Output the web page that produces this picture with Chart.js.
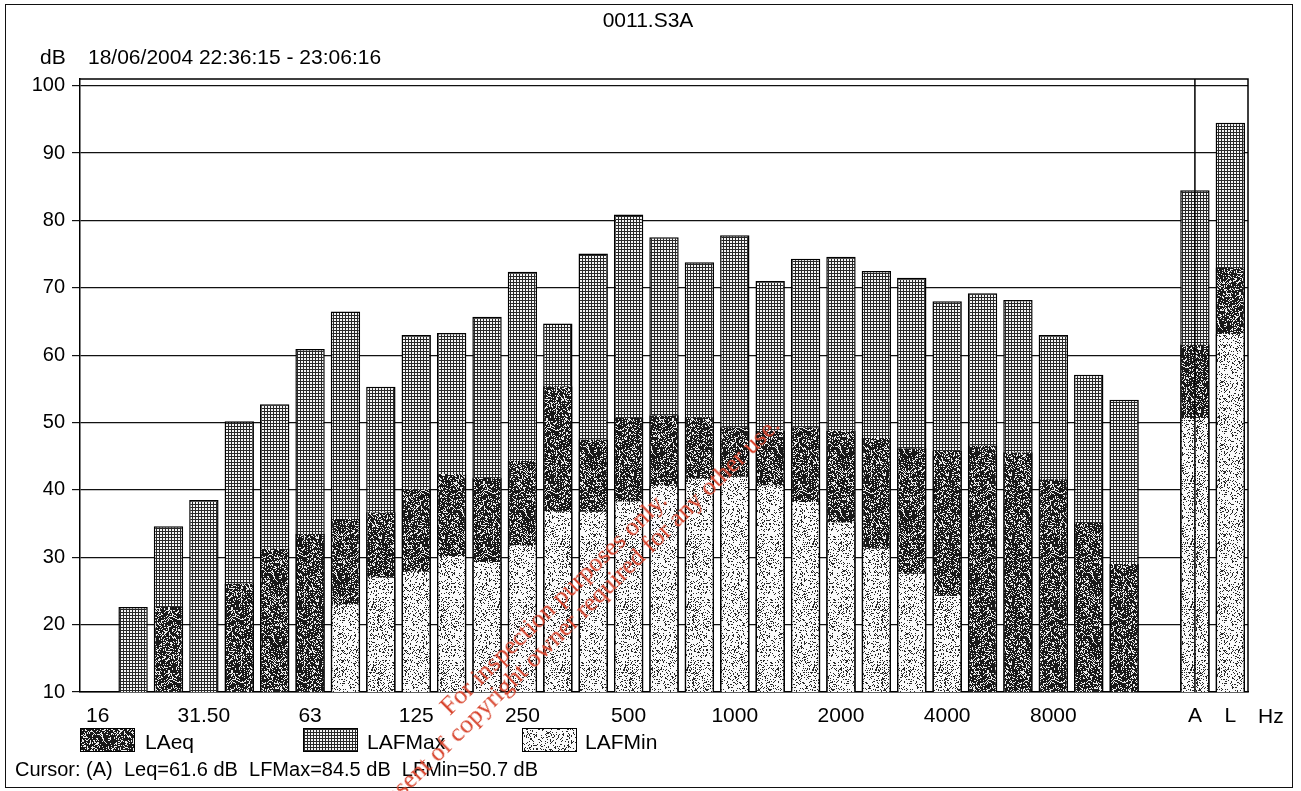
<!DOCTYPE html>
<html>
<head>
<meta charset="utf-8">
<title>0011.S3A</title>
<script src="https://cdn.jsdelivr.net/npm/chart.js@4.4.1/dist/chart.umd.min.js"></script>
<style>
  html, body { margin: 0; padding: 0; background: #fff; }
  body { width: 1301px; height: 791px; position: relative; overflow: hidden;
         font-family: "Liberation Sans", Arial, sans-serif; color: #000; }
  #frame { position: absolute; left: 5px; top: 4px; width: 1286px; height: 782px; border: 1.5px solid #111; }
  #wrap { position: absolute; left: 0; top: 0; width: 1301px; height: 791px; }
  .t { position: absolute; font-size: 21px; line-height: 21px; white-space: nowrap; }
  #title { left: 0; width: 1296px; text-align: center; top: 9px; }
  #db { left: 40px; top: 46px; }
  #period { left: 88px; top: 46px; }
  #hz { left: 1258px; top: 705px; }
  .sw { position: absolute; top: 728px; width: 53px; height: 22px; border: 1px solid #000; }
  #cursor { left: 15px; top: 759px; font-size: 20px; }
  #stamp { position: absolute; left: 237px; top: 587px; width: 650px; text-align: center;
           font-family: "Liberation Serif", "Times New Roman", serif; font-size: 26px; line-height: 25px;
           color: #d8452e; transform: rotate(-44.4deg); transform-origin: 50% 50%; white-space: nowrap; }
</style>
</head>
<body>
<div id="frame"></div>
<div id="wrap"><canvas id="chart" width="1301" height="791"></canvas></div>
<div class="t" id="title">0011.S3A</div>
<div class="t" id="db">dB</div>
<div class="t" id="period">18/06/2004 22:36:15 - 23:06:16</div>
<div class="t" id="hz">Hz</div>
<div class="sw" id="swEq" style="left:80px"></div><div class="t" style="left:145px;top:731px">LAeq</div>
<div class="sw" id="swMax" style="left:303px"></div><div class="t" style="left:367px;top:731px">LAFMax</div>
<div class="sw" id="swMin" style="left:522px"></div><div class="t" style="left:585px;top:731px">LAFMin</div>
<div class="t" id="cursor">Cursor: (A)&nbsp; Leq=61.6 dB&nbsp; LFMax=84.5 dB&nbsp; LFMin=50.7 dB</div>
<div id="stamp">For inspection purposes only.<br>Consent of copyright owner required for any other use.</div>

<script>
/* 1/3 octave bands 16 Hz .. 16 kHz, then the A and L totals */
const BANDS = ["16","20","25","31.5","40","50","63","80","100","125","160","200","250","315","400","500",
  "630","800","1000","1250","1600","2000","2500","3150","4000","5000","6300","8000","10000","12500","16000","A","L"];
const TICK_LABELS = ["16","","","31.50","","","63","","","125","","","250","","","500",
  "","","1000","","","2000","","","4000","","","8000","","","","A","L"];

const LAFMAX = [null,22.6,34.6,38.5,50.2,52.7,60.9,66.5,55.3,63.0,63.3,65.7,72.4,64.7,75.1,80.9,
  77.5,73.8,77.8,71.0,74.3,74.6,72.5,71.5,68.0,69.2,68.2,63.0,57.1,53.4,null,84.5,94.5];
const LAEQ = [null,null,22.6,null,26.1,31.3,33.5,35.7,36.7,40.1,42.4,41.8,44.3,55.4,47.5,50.7,
  51.1,50.8,49.3,48.8,49.3,48.8,47.7,46.2,45.8,46.6,45.6,41.6,35.1,29.0,null,61.6,73.0];
const LAFMIN = [null,null,null,null,null,null,null,23.0,27.0,27.9,30.2,29.3,31.8,36.8,36.8,38.3,
  40.6,41.7,42.0,40.7,38.2,35.2,31.3,27.6,24.3,null,null,null,null,null,null,50.7,63.2];

const CURSOR_BAND = "A";

/* textures like the printed fills (fixed hash, so the same every run) */
function hash(i, seed) {
  let h = Math.imul(i + 1, 374761393) ^ Math.imul(seed, 668265263);
  h = Math.imul(h ^ (h >>> 13), 1274126177);
  return ((h ^ (h >>> 16)) >>> 0) / 4294967296;
}
function tile(fn) {
  const n = 63, c = document.createElement("canvas");   // multiple of 3 so the hatch repeats cleanly
  c.width = c.height = n;
  const g = c.getContext("2d"), img = g.createImageData(n, n);
  for (let y = 0; y < n; y++) for (let x = 0; x < n; x++) {
    const v = fn(x, y, y * n + x), p = (y * n + x) * 4;
    img.data[p] = img.data[p+1] = img.data[p+2] = v; img.data[p+3] = 255;
  }
  g.putImageData(img, 0, 0);
  return c;
}
const tEq  = tile((x, y, i) => hash(i, 7) < 0.27 ? 235 : 25);
const tMax = tile((x, y) => (x % 3 === 0 || y % 3 === 0) ? 40 : 245);
const tMin = tile((x, y, i) => hash(i, 11) < 0.2 ? 40 : 250);

const ctx = document.getElementById("chart").getContext("2d");
const pEq = ctx.createPattern(tEq, "repeat"), pMax = ctx.createPattern(tMax, "repeat"), pMin = ctx.createPattern(tMin, "repeat");
[["swEq", tEq], ["swMax", tMax], ["swMin", tMin]].forEach(([id, t]) =>
  document.getElementById(id).style.backgroundImage = `url(${t.toDataURL()})`);

/* top / right edges of the plot box and the cursor line */
const boxPlugin = {
  id: "box",
  afterDatasetsDraw(chart) {
    const { ctx, chartArea: a, scales } = chart;
    ctx.save();
    ctx.strokeStyle = "#000"; ctx.lineWidth = 1.5;
    ctx.beginPath();
    ctx.moveTo(a.left, a.top); ctx.lineTo(a.right, a.top); ctx.lineTo(a.right, a.bottom);
    const cx = scales.x.getPixelForValue(BANDS.indexOf(CURSOR_BAND));
    ctx.moveTo(cx, a.top); ctx.lineTo(cx, a.bottom);
    ctx.stroke();
    ctx.restore();
  }
};

const sideBorder = { left: 1.5, right: 1.5, top: 0, bottom: 0 };

new Chart(ctx, {
  type: "bar",
  data: {
    labels: BANDS,
    datasets: [
      { label: "LAeq", data: LAEQ, backgroundColor: pEq, borderColor: "#000", borderWidth: sideBorder, order: 1 },
      { label: "LAFMax", data: LAFMAX, backgroundColor: pMax, borderColor: "#000", borderWidth: 1.5, order: 2 },
      { label: "LAFMin", data: LAFMIN, backgroundColor: pMin, borderColor: "#000", borderWidth: sideBorder, order: 0 }
    ]
  },
  options: {
    responsive: false,
    animation: false,
    devicePixelRatio: 1,
    barPercentage: 0.83,
    categoryPercentage: 1,
    layout: { padding: { left: 0, right: 53, top: 79, bottom: 0 } },
    plugins: { legend: { display: false }, tooltip: { enabled: false }, title: { display: false } },
    scales: {
      x: {
        stacked: true,
        grid: { display: false, drawTicks: false },
        border: { display: true, color: "#000", width: 1.5 },
        ticks: { autoSkip: false, maxRotation: 0, padding: 12, color: "#000",
                 font: { family: "Liberation Sans", size: 21 },
                 callback: (v, i) => TICK_LABELS[i] },
        afterFit: ax => { ax.height = 99; }
      },
      y: {
        min: 10, max: 101,
        grid: { color: "#111", lineWidth: 1.2, tickLength: 8, drawTicks: true },
        border: { display: true, color: "#000", width: 1.5 },
        ticks: { stepSize: 10, includeBounds: false, padding: 7, color: "#000",
                 font: { family: "Liberation Sans", size: 20 } },
        afterFit: ax => { ax.width = 80; }
      }
    }
  },
  plugins: [boxPlugin]
});
</script>
</body>
</html>
